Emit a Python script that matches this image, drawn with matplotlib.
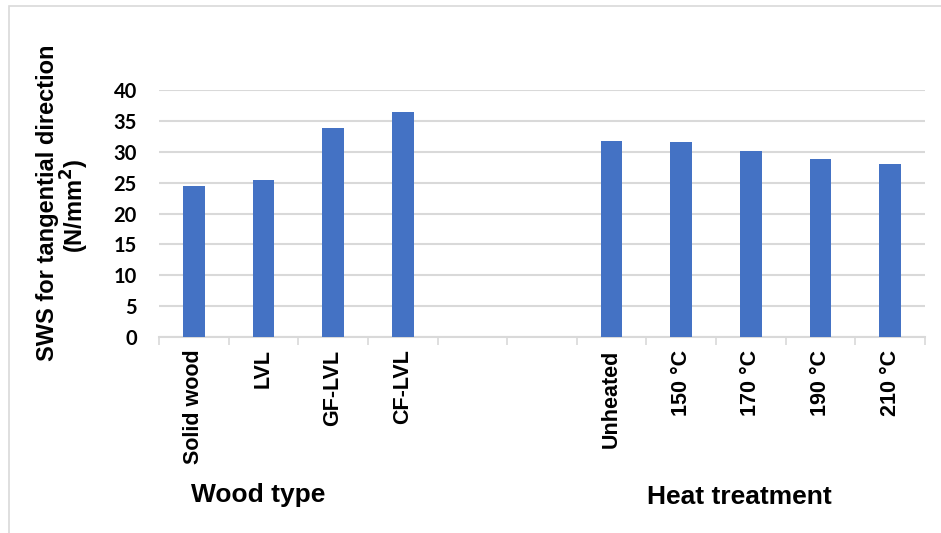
import numpy as np
import matplotlib.pyplot as plt
from matplotlib.patches import Rectangle

# categories (two empty slots separate the groups)
categories = ['Solid wood', 'LVL', 'GF-LVL', 'CF-LVL', '', '',
              'Unheated', '150 °C', '170 °C', '190 °C', '210 °C']
sws = [24.4, 25.5, 33.8, 36.5, np.nan, np.nan,
       31.7, 31.5, 30.2, 28.8, 28.0]
y_ticks = [0, 5, 10, 15, 20, 25, 30, 35, 40]
group_names = ['Wood type', 'Heat treatment']

W, H = 941, 533
fig = plt.figure(figsize=(W / 100, H / 100), dpi=100)

# chart area border
fig.patches.append(Rectangle((9 / W, -0.1), 1.1, (H - 6) / H + 0.1, transform=fig.transFigure,
                             fill=False, edgecolor='#d9d9d9', linewidth=1.2))

ax = fig.add_axes([159 / W, (H - 337) / H, (925 - 159) / W, (337 - 90) / H])

x = np.arange(len(categories))
ax.bar(x, sws, width=0.31, color='#4472C4', zorder=3)

ax.set_xlim(-0.5, len(categories) - 0.5)
ax.set_ylim(0, 40)
ax.set_yticks(y_ticks)
ax.set_yticklabels([str(v) for v in y_ticks], fontfamily='Lato', fontweight='bold', fontsize=14.5)
ax.tick_params(axis='y', length=0, pad=16)
ax.grid(axis='y', color='#d9d9d9', linewidth=1.5, zorder=0)

ax.set_xticks(x)
ax.set_xticklabels(categories, rotation=90, fontfamily='Liberation Sans', fontweight='bold',
                   fontsize=15.5, va='top')
ax.tick_params(axis='x', which='major', length=0, pad=9)
ax.set_xticks(np.arange(-0.5, len(categories)), minor=True)
ax.tick_params(axis='x', which='minor', length=6, color='#d9d9d9', width=1.2)

for s in ['top', 'right', 'left']:
    ax.spines[s].set_visible(False)
ax.spines['bottom'].set_color('#d9d9d9')
ax.spines['bottom'].set_linewidth(1.5)

fig.text(48 / W, 1 - 203 / H, 'SWS for tangential direction', rotation=90, ha='center', va='center',
         fontfamily='Liberation Sans', fontweight='bold', fontsize=17)
fig.text(75 / W, 1 - 206 / H, '(N/mm$^\\mathbf{2}$)', rotation=90, ha='center', va='center',
         fontfamily='Liberation Sans', fontweight='bold', fontsize=17)

fig.text(258 / W, 1 - 495 / H, group_names[0], ha='center', va='center',
         fontfamily='Liberation Sans', fontweight='bold', fontsize=19)
fig.text(739 / W, 1 - 497 / H, group_names[1], ha='center', va='center',
         fontfamily='Liberation Sans', fontweight='bold', fontsize=19)

fig.savefig('out.png', dpi=100)
